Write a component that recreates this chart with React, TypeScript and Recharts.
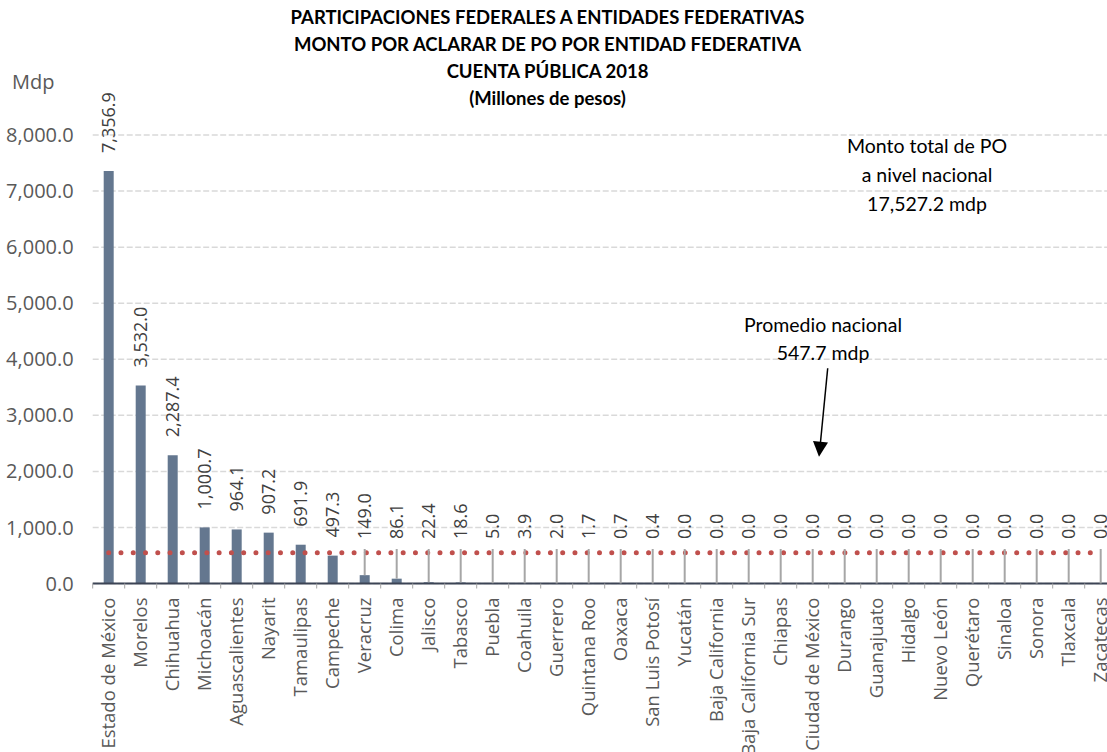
import React from "react";
import { ComposedChart, Bar, Line, XAxis, YAxis, CartesianGrid, LabelList } from "recharts";

const estados = [
  "Estado de México", "Morelos", "Chihuahua", "Michoacán", "Aguascalientes", "Nayarit",
  "Tamaulipas", "Campeche", "Veracruz", "Colima", "Jalisco", "Tabasco", "Puebla", "Coahuila",
  "Guerrero", "Quintana Roo", "Oaxaca", "San Luis Potosí", "Yucatán", "Baja California",
  "Baja California Sur", "Chiapas", "Ciudad de México", "Durango", "Guanajuato", "Hidalgo",
  "Nuevo León", "Querétaro", "Sinaloa", "Sonora", "Tlaxcala", "Zacatecas",
];

const montos = [
  7356.9, 3532.0, 2287.4, 1000.7, 964.1, 907.2, 691.9, 497.3, 149.0, 86.1, 22.4, 18.6, 5.0, 3.9,
  2.0, 1.7, 0.7, 0.4, 0.0, 0.0, 0.0, 0.0, 0.0, 0.0, 0.0, 0.0, 0.0, 0.0, 0.0, 0.0, 0.0, 0.0,
];

const promedioNacional = 547.7;
const yTicks = [0, 1000, 2000, 3000, 4000, 5000, 6000, 7000, 8000];

const data = estados.map((estado, i) => ({ estado, monto: montos[i], promedio: promedioNacional }));

const fmt = (v: number) =>
  Number(v).toLocaleString("en-US", { minimumFractionDigits: 1, maximumFractionDigits: 1 });

const SANS = "'Open Sans', sans-serif";
const CALIBRI = "Lato, sans-serif";

// etiqueta de valor vertical; las muy bajas se suben y llevan línea guía
function EtiquetaValor(props: any) {
  const { x, y, width, value } = props;
  const cx = x + (width || 0) / 2;
  const base = Math.min(y - 18, 539);
  const guia = y - base > 28;
  return (
    <g>
      {guia && <line x1={cx} x2={cx} y1={base + 10} y2={y} stroke="#a6a6a6" strokeWidth={2} />}
      <text
        transform={`translate(${cx},${base}) rotate(-90)`}
        textAnchor="start"
        dy="0.35em"
        fontSize={18}
        fontFamily={SANS}
        fill="#404040"
      >
        {fmt(value)}
      </text>
    </g>
  );
}

function EtiquetaEstado(props: any) {
  const { x, y, payload } = props;
  const off = payload.offset || 0;
  return (
    <g>
      <line x1={x - off} x2={x - off} y1={y} y2={y + 5} stroke="#a6a6a6" strokeWidth={1} />
      <text
        transform={`translate(${x},${y + 14}) rotate(-90)`}
        textAnchor="end"
        dy="0.35em"
        fontSize={18.5}
        fontFamily={SANS}
        fill="#595959"
      >
        {payload.value}
      </text>
    </g>
  );
}

export default function App() {
  return (
    <div style={{ position: "absolute", left: 0, top: 0, width: 1107, height: 752, overflow: "hidden", background: "#fff" }}>
      <div style={{ position: "absolute", left: 0, top: 0 }}>
        <ComposedChart width={1130} height={752} data={data} margin={{ top: 135, right: 13.3, bottom: 0, left: 0 }}>
          <CartesianGrid vertical={false} stroke="#d9d9d9" strokeDasharray="6 2.5" strokeWidth={1.5} />
          <XAxis
            dataKey="estado"
            interval={0}
            height={168.5}
            tickLine={false}
            tickSize={0}
            tickMargin={0}
            axisLine={{ stroke: "#3c4455", strokeWidth: 2 }}
            tick={<EtiquetaEstado />}
          />
          <YAxis
            width={92.7}
            domain={[0, 8000]}
            ticks={yTicks}
            tickFormatter={fmt}
            axisLine={false}
            tickLine={false}
            tickSize={0}
            tickMargin={19}
            tick={{ fontSize: 20, fontFamily: SANS, fill: "#595959" }}
          />
          <Bar dataKey="monto" fill="#64778f" barSize={10} isAnimationActive={false} />
          {/* serie invisible sólo para colocar las etiquetas, incluidos los ceros */}
          <Line
            dataKey="monto"
            stroke="none"
            dot={false}
            activeDot={false}
            isAnimationActive={false}
          >
            <LabelList dataKey="monto" content={<EtiquetaValor />} />
          </Line>
          <Line
            type="linear"
            dataKey="promedio"
            stroke="#c0504d"
            strokeWidth={5}
            strokeDasharray="0 12.27"
            strokeLinecap="round"
            dot={false}
            activeDot={false}
            isAnimationActive={false}
          />
        </ComposedChart>
      </div>

      <div
        style={{
          position: "absolute", left: 0, top: 3.5, width: 1095, textAlign: "center",
          fontFamily: CALIBRI, fontWeight: 700, fontSize: 18.5, lineHeight: "27px", color: "#000",
        }}
      >
        <div>PARTICIPACIONES FEDERALES A ENTIDADES FEDERATIVAS</div>
        <div>MONTO POR ACLARAR DE PO POR ENTIDAD FEDERATIVA</div>
        <div>CUENTA PÚBLICA 2018</div>
        <div>(Millones de pesos)</div>
      </div>

      <div style={{ position: "absolute", left: 12, top: 68, fontFamily: SANS, fontSize: 20, color: "#595959" }}>Mdp</div>

      <div
        style={{
          position: "absolute", left: 827, top: 131, width: 200, textAlign: "center",
          fontFamily: CALIBRI, fontSize: 19.5, lineHeight: "29px", color: "#000",
        }}
      >
        <div>Monto total de PO</div>
        <div>a nivel nacional</div>
        <div>17,527.2 mdp</div>
      </div>

      <div
        style={{
          position: "absolute", left: 723, top: 311, width: 200, textAlign: "center",
          fontFamily: CALIBRI, fontSize: 19.5, lineHeight: "28px", color: "#000",
        }}
      >
        <div>Promedio nacional</div>
        <div>547.7 mdp</div>
      </div>

      <svg style={{ position: "absolute", left: 0, top: 0, pointerEvents: "none" }} width={1107} height={752}>
        <line x1={827.7} y1={368.3} x2={820.5} y2={442} stroke="#000" strokeWidth={1.5} />
        <polygon points="819,456.7 813,441.1 828,442.5" fill="#000" />
      </svg>
    </div>
  );
}
